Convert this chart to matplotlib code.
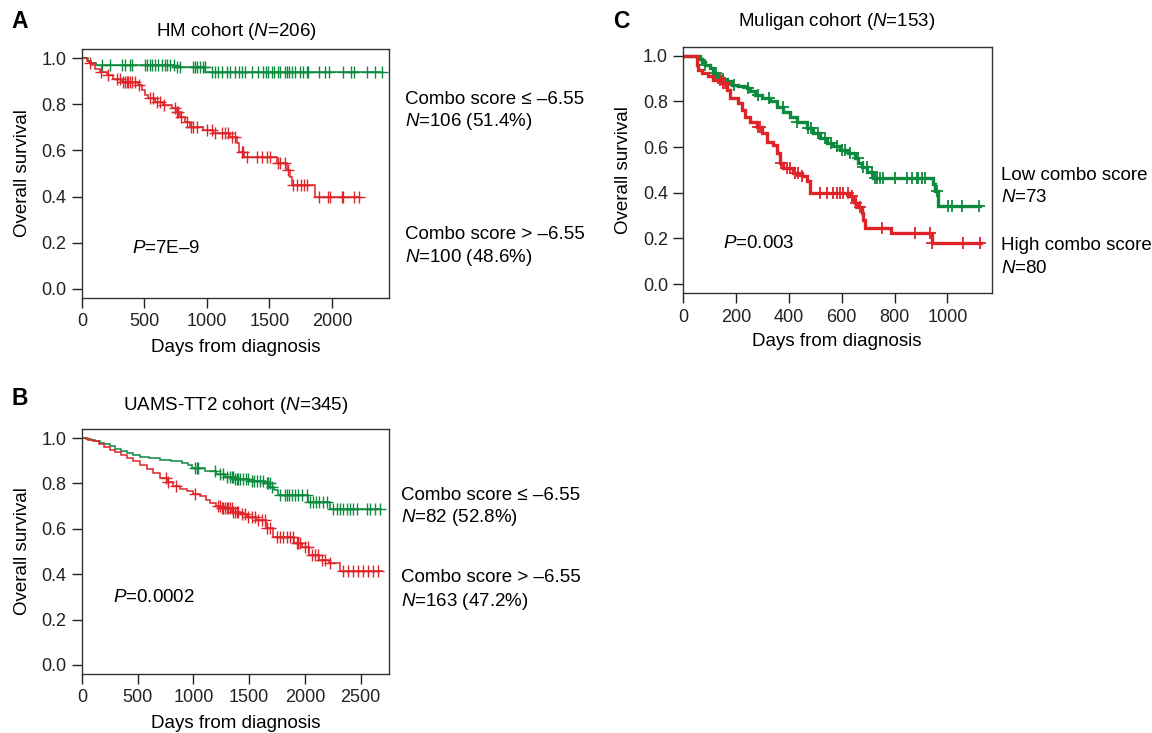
import numpy as np
import matplotlib
matplotlib.use('Agg')
import matplotlib.pyplot as plt

plt.rcParams['font.family'] = ['Liberation Sans', 'DejaVu Sans']
plt.rcParams['mathtext.fontset'] = 'custom'
plt.rcParams['mathtext.it'] = 'Liberation Sans:italic'
plt.rcParams['mathtext.rm'] = 'Liberation Sans'

GREEN = '#0c8a3e'
RED = '#df2429'
FS = 13.5
TFS = 13

# ---------------- Panel A : HM cohort ----------------
a_low_t = [45, 70, 110, 740, 985]
a_low_s = [0.99, 0.98, 0.971, 0.961, 0.942]
a_low_cens = [157, 224, 317, 344, 384, 397, 504, 517, 544, 557, 584, 611, 637, 664, 683, 704,
              739, 757, 784, 891, 904, 923, 944, 965, 984, 1037, 1064, 1091, 1117, 1157, 1184,
              1224, 1259, 1277, 1304, 1357, 1411, 1451, 1469, 1491, 1517, 1536, 1571, 1584,
              1624, 1643, 1659, 1677, 1704, 1744, 1765, 1797, 1811, 1899, 1944, 1979, 2085,
              2149, 2176, 2283, 2344, 2397]
a_low_end = 2397

a_high_t = [37, 60, 77, 104, 144, 197, 251, 317, 451, 477, 504, 531, 584, 651, 717, 757, 784,
            824, 864, 971, 1051, 1185, 1240, 1260, 1300, 1557, 1637, 1664, 1677, 1864]
a_high_s = [0.99, 0.98, 0.97, 0.955, 0.94, 0.926, 0.912, 0.898, 0.883, 0.862, 0.84, 0.826,
            0.811, 0.797, 0.782, 0.768, 0.746, 0.724, 0.703, 0.689, 0.674, 0.659, 0.632,
            0.595, 0.572, 0.545, 0.515, 0.486, 0.452, 0.400]
a_high_cens = [64, 150, 211, 277, 304, 331, 344, 357, 371, 384, 397, 424, 460, 544, 571, 597,
               624, 660, 744, 762, 771, 790, 837, 870, 891, 917, 997, 1037, 1064, 1117, 1144,
               1171, 1197, 1224, 1277, 1291, 1317, 1397, 1437, 1477, 1504, 1565, 1584, 1624,
               1651, 1691, 1717, 1749, 1776, 1803, 1899, 1971, 1984, 2077, 2091, 2176, 2219]
a_high_end = 2219

# ---------------- Panel B : UAMS-TT2 cohort ----------------
b_low_t = [40, 80, 120, 160, 200, 250, 300, 350, 400, 460, 520, 600, 700, 800, 900, 950, 990,
           1100, 1200, 1280, 1360, 1500, 1640, 1690, 1720, 1760, 2030, 2225]
b_low_s = [0.995, 0.99, 0.985, 0.978, 0.972, 0.963, 0.953, 0.944, 0.935, 0.926, 0.918, 0.91,
           0.903, 0.897, 0.89, 0.88, 0.868, 0.855, 0.84, 0.83, 0.82, 0.81, 0.80, 0.785, 0.77,
           0.75, 0.72, 0.687]
b_low_cens = [1013, 1028, 1043, 1193, 1237, 1267, 1297, 1327, 1342, 1357, 1372, 1387, 1402,
              1417, 1447, 1471, 1492, 1522, 1543, 1567, 1597, 1627, 1657, 1672, 1687, 1702,
              1776, 1821, 1836, 1860, 1881, 1911, 1941, 1971, 2016, 2046, 2076, 2100, 2130,
              2160, 2196, 2255, 2285, 2315, 2345, 2375, 2405, 2435, 2465, 2555, 2585, 2630,
              2674]
b_low_end = 2680

b_high_t = [50, 100, 150, 200, 250, 300, 350, 400, 460, 520, 580, 640, 700, 760, 820, 880,
            940, 1000, 1060, 1110, 1150, 1200, 1240, 1350, 1420, 1480, 1560, 1650, 1715, 1900,
            1970, 2040, 2130, 2220, 2315]
b_high_s = [0.993, 0.985, 0.975, 0.962, 0.949, 0.937, 0.925, 0.912, 0.897, 0.882, 0.864,
            0.846, 0.826, 0.806, 0.787, 0.776, 0.765, 0.754, 0.743, 0.728, 0.713, 0.70, 0.69,
            0.676, 0.665, 0.654, 0.64, 0.605, 0.566, 0.538, 0.522, 0.485, 0.463, 0.45, 0.415]
b_high_cens = [758, 773, 848, 1013, 1222, 1237, 1252, 1267, 1282, 1297, 1312, 1327, 1342,
               1357, 1372, 1387, 1402, 1432, 1462, 1492, 1522, 1552, 1582, 1612, 1642, 1663,
               1687, 1746, 1776, 1806, 1836, 1866, 1896, 1926, 1941, 1956, 2001, 2031, 2061,
               2091, 2121, 2150, 2180, 2225, 2345, 2390, 2435, 2480, 2525, 2570, 2615, 2660]
b_high_end = 2690

# ---------------- Panel C : Muligan cohort ----------------
c_low_t = [63, 70, 82, 101, 114, 126, 145, 164, 183, 208, 240, 253, 272, 297, 328, 354, 379,
           404, 429, 467, 492, 518, 543, 568, 594, 625, 650, 663, 676, 695, 720, 945, 953, 963]
c_low_s = [0.987, 0.975, 0.96, 0.946, 0.924, 0.91, 0.9, 0.888, 0.873, 0.866, 0.858, 0.844,
           0.829, 0.815, 0.8, 0.778, 0.756, 0.734, 0.712, 0.683, 0.661, 0.639, 0.617, 0.603,
           0.588, 0.574, 0.552, 0.53, 0.515, 0.493, 0.467, 0.44, 0.41, 0.343]
c_low_cens = [84, 124, 151, 191, 244, 284, 324, 377, 431, 471, 484, 511, 537, 560, 581, 600,
              612, 631, 660, 682, 694, 713, 726, 732, 745, 757, 802, 846, 865, 884, 890, 903,
              915, 960, 1004, 1017, 1055, 1118]
c_low_end = 1125

c_high_t = [51, 55, 70, 95, 114, 145, 164, 177, 208, 221, 234, 253, 278, 297, 316, 341, 354,
            366, 379, 417, 448, 467, 480, 631, 644, 650, 663, 676, 682, 688, 785, 940]
c_high_s = [0.962, 0.939, 0.924, 0.91, 0.895, 0.88, 0.851, 0.814, 0.793, 0.763, 0.734, 0.712,
            0.69, 0.661, 0.624, 0.61, 0.574, 0.53, 0.508, 0.486, 0.472, 0.45, 0.40, 0.385,
            0.37, 0.355, 0.34, 0.311, 0.282, 0.248, 0.225, 0.18]
c_high_cens = [139, 151, 158, 283, 290, 370, 391, 404, 423, 436, 448, 518, 543, 568, 581, 594,
               606, 625, 638, 655, 668, 752, 878, 934, 941, 1061, 1124]
c_high_end = 1128

yticks = [0.0, 0.2, 0.4, 0.6, 0.8, 1.0]
ytick_labels = ['0.0', '0.2', '0.4', '0.6', '0.8', '1.0']
a_xticks = [0, 500, 1000, 1500, 2000]
b_xticks = [0, 500, 1000, 1500, 2000, 2500]
c_xticks = [0, 200, 400, 600, 800, 1000]

W, H = 1152, 733
fig = plt.figure(figsize=(W / 100, H / 100), dpi=100)


def rect(x0, y0, x1, y1):
    return [x0 / W, 1 - y1 / H, (x1 - x0) / W, (y1 - y0) / H]


def ftext(x, y, s, **kw):
    fig.text(x / W, 1 - y / H, s, **kw)


def km(ax, t, s, cens, end, color, lw, ms, mew):
    tt = np.concatenate([[0], t, [end]])
    ss = np.concatenate([[1.0], s, [s[-1]]])
    ax.step(tt, ss, where='post', color=color, lw=lw, solid_joinstyle='miter')
    c = np.asarray(cens, dtype=float)
    idx = np.searchsorted(tt, c, side='right') - 1
    ax.plot(c, ss[idx], ls='none', marker='+', ms=ms, mew=mew, color=color)


def style(ax, xlim, xticks):
    ax.set_xlim(*xlim)
    ax.set_ylim(-0.04, 1.04)
    ax.set_xticks(xticks)
    ax.set_xticklabels([str(v) for v in xticks])
    ax.set_yticks(yticks)
    ax.set_yticklabels(ytick_labels)
    ax.tick_params(direction='out', length=7, width=1, labelsize=TFS, pad=4,
                   colors='#222222')
    for sp in ax.spines.values():
        sp.set_color('#333333')
        sp.set_linewidth(1.0)


# Panel A
axA = fig.add_axes(rect(82, 49, 389, 298))
km(axA, a_low_t, a_low_s, a_low_cens, a_low_end, GREEN, 1.1, 8, 1.0)
km(axA, a_high_t, a_high_s, a_high_cens, a_high_end, RED, 1.1, 8, 1.0)
style(axA, (0, 2457), a_xticks)
axA.text(400, 0.173, '$P$=7E\u20139', fontsize=FS, va='center', ha='left')
ftext(236, 32, 'HM cohort ($N$=206)', fontsize=FS, ha='center', va='center')
ftext(236, 348, 'Days from diagnosis', fontsize=FS, ha='center', va='center')
ftext(23, 173, 'Overall survival', fontsize=FS, ha='center', va='center', rotation=90)
ftext(20, 22, 'A', fontsize=16.5, fontweight='bold', ha='center', va='center')
ftext(405, 99, 'Combo score \u2264 \u20136.55', fontsize=FS, ha='left', va='center')
ftext(405, 121, '$N$=106 (51.4%)', fontsize=FS, ha='left', va='center')
ftext(405, 235, 'Combo score > \u20136.55', fontsize=FS, ha='left', va='center')
ftext(405, 257, '$N$=100 (48.6%)', fontsize=FS, ha='left', va='center')

# Panel B
axB = fig.add_axes(rect(82, 429, 389, 674))
km(axB, b_low_t, b_low_s, b_low_cens, b_low_end, GREEN, 1.1, 8, 1.0)
km(axB, b_high_t, b_high_s, b_high_cens, b_high_end, RED, 1.1, 8, 1.0)
style(axB, (0, 2755), b_xticks)
axB.text(276, 0.296, '$P$=0.0002', fontsize=FS, va='center', ha='left')
ftext(236, 405, 'UAMS-TT2 cohort ($N$=345)', fontsize=FS, ha='center', va='center')
ftext(236, 724, 'Days from diagnosis', fontsize=FS, ha='center', va='center')
ftext(23, 551, 'Overall survival', fontsize=FS, ha='center', va='center', rotation=90)
ftext(20, 398, 'B', fontsize=16.5, fontweight='bold', ha='center', va='center')
ftext(401, 495, 'Combo score \u2264 \u20136.55', fontsize=FS, ha='left', va='center')
ftext(401, 518, '$N$=82 (52.8%)', fontsize=FS, ha='left', va='center')
ftext(401, 578, 'Combo score > \u20136.55', fontsize=FS, ha='left', va='center')
ftext(401, 601, '$N$=163 (47.2%)', fontsize=FS, ha='left', va='center')

# Panel C
axC = fig.add_axes(rect(683.3, 46.7, 992, 293.3))
km(axC, c_low_t, c_low_s, c_low_cens, c_low_end, GREEN, 2.4, 9, 1.3)
km(axC, c_high_t, c_high_s, c_high_cens, c_high_end, RED, 2.4, 9, 1.3)
style(axC, (0, 1169), c_xticks)
axC.text(150, 0.177, '$P$=0.003', fontsize=FS, va='center', ha='left')
ftext(837, 22, 'Muligan cohort ($N$=153)', fontsize=FS, ha='center', va='center')
ftext(837, 342, 'Days from diagnosis', fontsize=FS, ha='center', va='center')
ftext(624, 170, 'Overall survival', fontsize=FS, ha='center', va='center', rotation=90)
ftext(621, 22, 'C', fontsize=16.5, fontweight='bold', ha='center', va='center')
ftext(1001, 176, 'Low combo score', fontsize=FS, ha='left', va='center')
ftext(1001, 198, '$N$=73', fontsize=FS, ha='left', va='center')
ftext(1001, 245, 'High combo score', fontsize=FS, ha='left', va='center')
ftext(1001, 268, '$N$=80', fontsize=FS, ha='left', va='center')

fig.savefig('out.png', dpi=100)
